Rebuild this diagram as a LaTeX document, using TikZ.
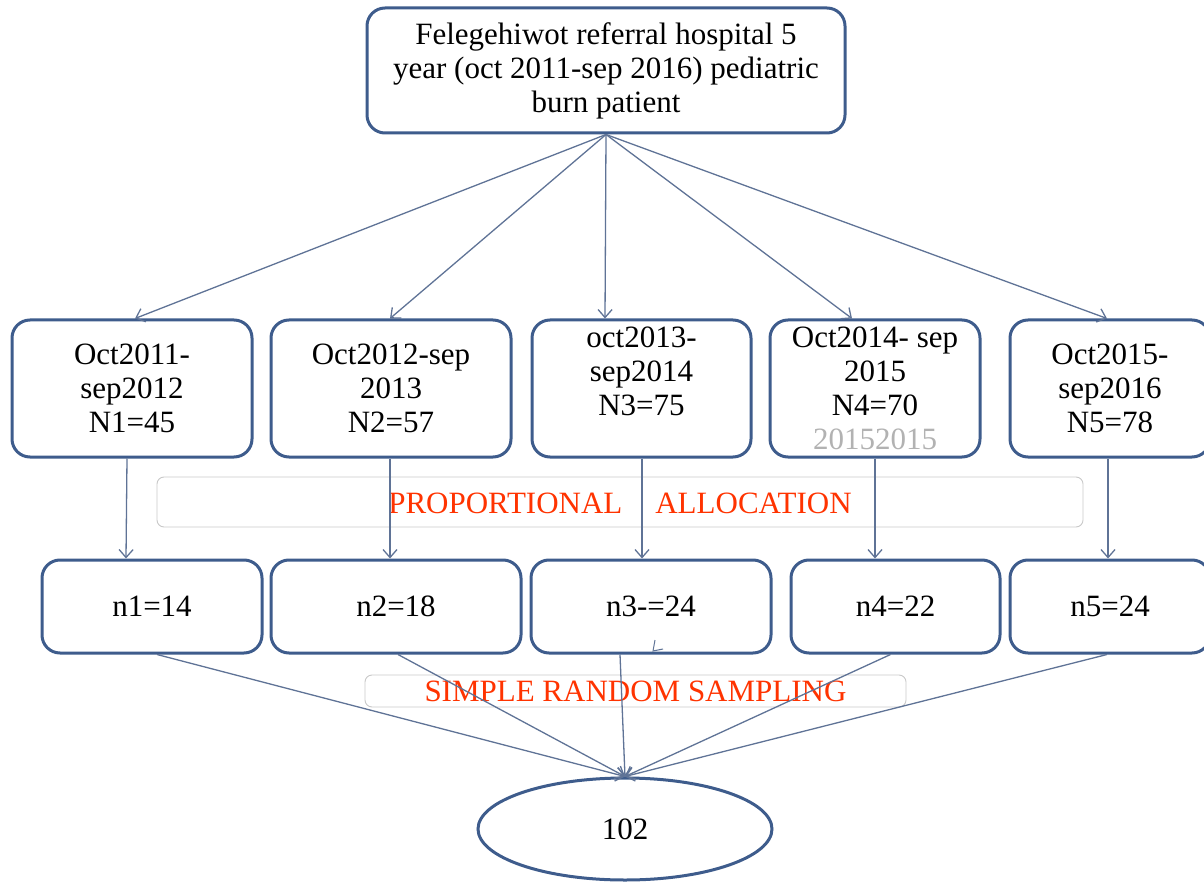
\documentclass[tikz,border=0pt]{standalone}
\usepackage{fontspec}
\setmainfont{Liberation Serif}
\usetikzlibrary{arrows.meta,shapes.geometric}
\definecolor{boxblue}{RGB}{62,92,140}
\definecolor{arrcol}{RGB}{95,115,150}
\definecolor{redtxt}{RGB}{255,51,0}
\definecolor{barcol}{RGB}{200,200,200}
\begin{document}
\begin{tikzpicture}[x=1pt,y=-1pt,
  every node/.style={font=\fontsize{31}{34}\selectfont},
  box/.style={draw=boxblue, line width=3pt, rounded corners=18pt, align=center, inner sep=0pt, fill=white},
  bar/.style={draw=barcol, line width=0.9pt, rounded corners=7pt, inner sep=0pt},
  arr/.style={draw=arrcol, line width=1.3pt, -{Straight Barb[length=8pt,width=14pt,line width=1.3pt]}},
  lin/.style={draw=arrcol, line width=1pt}
]
\useasboundingbox (0,0) rectangle (1204,882);
% top
\node[box, minimum width=478pt, minimum height=125pt] (top) at (606,70.5)
  {Felegehiwot referral hospital 5\\year (oct 2011-sep 2016) pediatric\\burn patient};
% row 1
\node[box, minimum width=240pt, minimum height=137pt] (b1) at (132,388.5) {Oct2011-\\sep2012\\N1=45};
\node[box, minimum width=240pt, minimum height=137pt] (b2) at (391,388.5) {Oct2012-sep\\2013\\N2=57};
\node[box, minimum width=219pt, minimum height=137pt] (b3) at (641.5,388.5) {oct2013-\\sep2014\\N3=75\\\phantom{20152015}};
\node[box, minimum width=210pt, minimum height=137pt] (b4) at (875,388.5) {Oct2014- sep\\2015\\N4=70\\\textcolor{black!30}{20152015}};
\node[box, minimum width=200pt, minimum height=137pt] (b5) at (1110,388.5) {Oct2015-\\sep2016\\N5=78};
% proportional allocation bar
\node[bar, minimum width=926pt, minimum height=50pt] (pa) at (620,502) {};
\node[text=redtxt, inner sep=0pt] (patext) at (620,503) {PROPORTIONAL\hspace{33pt}ALLOCATION};
% row 2
\node[box, minimum width=220pt, minimum height=93pt] (c1) at (152,606.5) {n1=14};
\node[box, minimum width=250pt, minimum height=93pt] (c2) at (396,606.5) {n2=18};
\node[box, minimum width=240pt, minimum height=93pt] (c3) at (651,606.5) {n3-=24};
\node[box, minimum width=209pt, minimum height=93pt] (c4) at (895.5,606.5) {n4=22};
\node[box, minimum width=200pt, minimum height=93pt] (c5) at (1110,606.5) {n5=24};
% simple random sampling bar
\node[bar, minimum width=541pt, minimum height=32pt] (srs) at (635.5,691) {};
\node[text=redtxt, inner sep=0pt] (srstext) at (635.5,691) {SIMPLE RANDOM SAMPLING};
% ellipse
\node[draw=boxblue, line width=3pt, ellipse, minimum width=294pt, minimum height=102pt, inner sep=0pt] (ell) at (625,829) {102};
% arrows top -> row 1
\draw[arr] (top.south) -- ([xshift=3pt]b1.north);
\draw[arr] (top.south) -- ([xshift=-1pt]b2.north);
\draw[arr] (top.south) -- ([xshift=-36.5pt]b3.north);
\draw[arr] (top.south) -- ([xshift=-23pt]b4.north);
\draw[arr] (top.south) -- ([xshift=-3pt]b5.north);
% row 1 -> row 2
\draw[arr] ([xshift=-5pt]b1.south) -- ([xshift=-26pt]c1.north);
\draw[arr] ([xshift=-1pt]b2.south) -- ([xshift=-6pt]c2.north);
\draw[arr] ([xshift=0.5pt]b3.south) -- ([xshift=-9pt]c3.north);
\draw[arr] (b4.south) -- ([xshift=-20.5pt]c4.north);
\draw[arr] ([xshift=-2pt]b5.south) -- ([xshift=-2pt]c5.north);
% row 2 -> ellipse
\draw[arr] ([xshift=5pt]c1.south) -- (ell.north);
\draw[arr] ([xshift=2pt]c2.south) -- (ell.north);
\draw[arr] ([xshift=-31pt]c3.south) -- (ell.north);
\draw[arr] ([xshift=-5pt]c4.south) -- (ell.north);
\draw[arr] ([xshift=-3pt]c5.south) -- (ell.north);
% stray mark in n3 box
\draw[lin] (655,640) -- (653,651) -- (663,649);
\end{tikzpicture}
\end{document}
